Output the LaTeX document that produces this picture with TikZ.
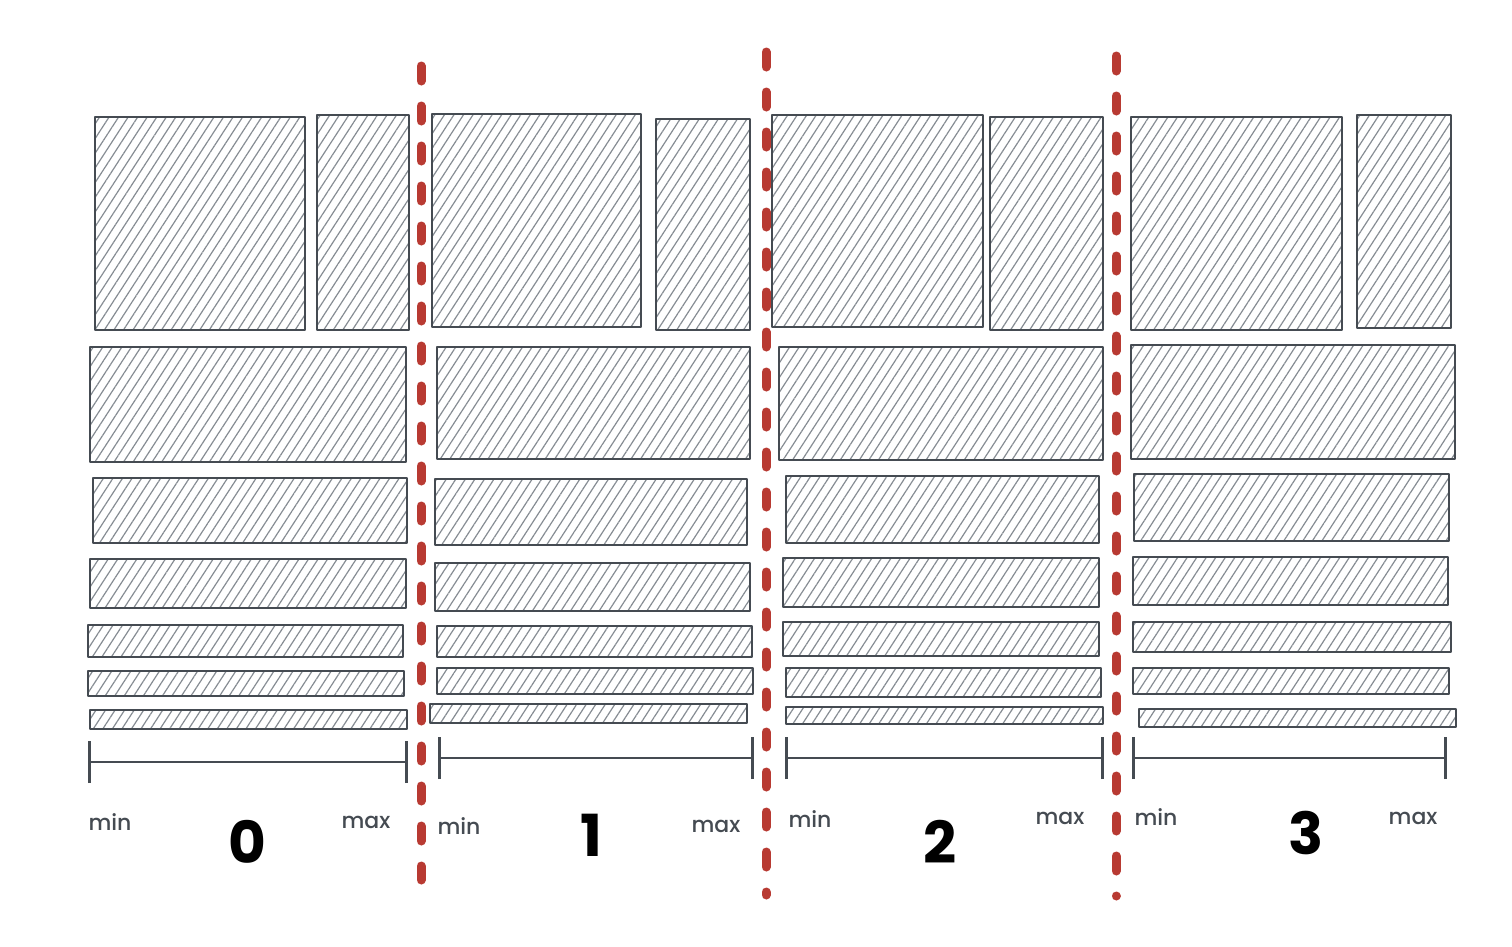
\documentclass[tikz,border=0pt]{standalone}
\usepackage{fontspec}
\setmainfont{Poppins}
\newfontfamily\medfont{Poppins Medium}
\usetikzlibrary{patterns.meta}
\definecolor{inkgray}{HTML}{454B52}
\definecolor{hatchgray}{HTML}{868C93}
\definecolor{cutred}{HTML}{B83A32}
\tikzset{
    block/.style={draw=inkgray,line width=2.8pt,line join=round,
        pattern={Lines[angle=57,distance=8pt,line width=1.2pt]},pattern color=hatchgray},
    ruler/.style={draw=inkgray,line width=2.2pt},
    tick/.style={draw=inkgray,line width=3pt},
    cut/.style={draw=cutred,line width=9pt,line cap=round,dash pattern=on 15pt off 25pt},
    bound/.style={font=\medfont\fontsize{22}{24}\selectfont,text=inkgray,inner sep=0pt},
    bucket/.style={font=\fontsize{58}{60}\selectfont\bfseries,text=black,inner sep=0pt}
}

\begin{document}
\begin{tikzpicture}[x=1pt,y=-1pt]
    \useasboundingbox (0,0) rectangle (1512,946);
    % blocks, column by column
    \foreach \xa/\ya/\xb/\yb in {
        95/117/305/330, 317/115/409/330, 90/347/406/462, 93/478/407/543,
        90/559/406/608, 88/625/403/657, 88/671/404/696, 90/710/407/729,
        432/114/641/327, 656/119/750/330, 437/347/750/459, 435/479/747/545,
        435/563/750/611, 437/626/752/657, 437/668/753/694, 430/704/747/723,
        772/115/983/327, 990/117/1103/330, 779/347/1103/460, 786/476/1099/543,
        783/558/1099/607, 783/622/1099/656, 786/668/1101/697, 786/707/1103/724,
        1131/117/1342/330, 1357/115/1451/328, 1131/345/1455/459, 1134/474/1449/541,
        1133/557/1448/605, 1133/622/1451/652, 1133/668/1449/694, 1139/709/1456/727}{
        \draw[block] (\xa,\ya) rectangle (\xb,\yb);
    }
    % rulers with min / max labels and bucket number
    \foreach \i/\xl/\xr/\yr/\xm/\ym/\xn/\yn/\xx/\yx in {
        0/89/406/762/110/822/247/842/366/822,
        1/439/752/758/459/826/591/835/716/826,
        2/786/1102/758/810/819/940/842/1060/818,
        3/1133/1445/758/1156/817/1306/833/1413/818}{
        \coordinate (lo\i) at (\xl,\yr);
        \coordinate (hi\i) at (\xr,\yr);
        \draw[ruler] (lo\i) -- (hi\i);
        \draw[tick] ([yshift=-21pt]lo\i) -- ([yshift=21pt]lo\i);
        \draw[tick] ([yshift=-21pt]hi\i) -- ([yshift=21pt]hi\i);
        \node[bound] (min\i) at (\xm,\ym) {min};
        \node[bucket] (num\i) at (\xn,\yn) {\i};
        \node[bound] (max\i) at (\xx,\yx) {max};
    }
    % bucket boundaries
    \draw[cut] (421,66) -- (421,880);
    \draw[cut] (766,52) -- (766,895);
    \draw[cut] (1116,56) -- (1116,896);
\end{tikzpicture}
\end{document}
